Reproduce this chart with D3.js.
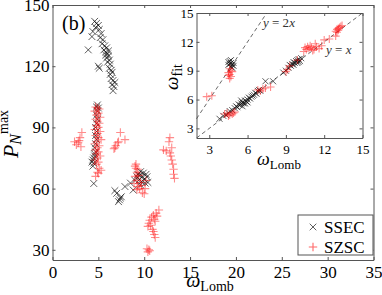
<!DOCTYPE html>
<html>
<head>
<meta charset="utf-8">
<script src="https://cdn.jsdelivr.net/npm/d3@7"></script>
<style>
    body { margin: 0; background: #fff; }
    svg { display: block; font-family: 'Liberation Serif', 'Times New Roman', Times, 'DejaVu Serif', serif; }
</style>
</head>
<body>
<div id="chart"></div>
<script>
// main panel: omega_Lomb vs P_N^max
const mainSsec = [
    [4.6, 142], [4.8, 141], [5.0, 140], [4.7, 139], [4.4, 137], [5.1, 138], [5.3, 136], [5.2, 134],
    [5.5, 133], [5.4, 131], [5.7, 130], [5.6, 128], [5.9, 129], [5.8, 127], [6.0, 126], [5.9, 124],
    [6.1, 125], [6.2, 123], [6.0, 122], [6.3, 121], [6.2, 119], [6.4, 118], [6.3, 116], [6.5, 117],
    [6.4, 114], [6.6, 113], [6.5, 111], [6.7, 110], [6.6, 108], [6.8, 112], [3.9, 128], [5.0, 120],
    [5.1, 119], [4.3, 134.5], [5.8, 125.5], [6.1, 127.5],
    [4.9, 101], [4.8, 100], [5.0, 99.5], [4.9, 98], [4.8, 96], [4.9, 94], [4.8, 92], [4.7, 90],
    [4.8, 88], [4.7, 86], [4.8, 84], [4.7, 82], [4.6, 80], [4.7, 78], [4.6, 76], [4.5, 75],
    [4.4, 74], [4.3, 73], [4.5, 72.5], [4.4, 71], [4.6, 77], [4.5, 62.5],
    [6.8, 59], [7.0, 57.7], [7.2, 53.6], [7.4, 55.4], [7.5, 56], [7.3, 54.5], [7.9, 61], [8.5, 62.7],
    [8.8, 59.3], [9.2, 65.8], [9.4, 64], [9.6, 68.3], [9.9, 67.6], [10.3, 65.8], [10.1, 62.7], [9.6, 61.8],
    [9.8, 66], [10.0, 64.5], [9.3, 67], [9.7, 63.5], [10.4, 63], [9.5, 66.5], [10.2, 67], [9.0, 64]
];
const mainSzsc = [
    [4.7, 100], [4.9, 99.5], [5.1, 99], [4.6, 98], [5.0, 97], [4.8, 96], [5.2, 95], [4.7, 94],
    [4.9, 93], [5.1, 92], [4.8, 91], [5.0, 90], [4.6, 89], [5.2, 88], [4.9, 87], [4.7, 86],
    [5.0, 85], [5.3, 84], [4.8, 83], [4.6, 82], [5.1, 81], [4.9, 80], [4.7, 79], [5.0, 78],
    [4.8, 77], [5.2, 76], [4.9, 75], [4.6, 74], [5.0, 73], [4.8, 72], [5.1, 70], [4.9, 68],
    [5.3, 69], [4.7, 66], [5.0, 67.5],
    [2.6, 81.5], [2.8, 82.5], [3.0, 85], [3.2, 87.5], [2.9, 83.5], [3.1, 80.5], [2.4, 83],
    [6.7, 79.5], [6.9, 81], [7.1, 82.5], [7.4, 87.5], [7.9, 84], [7.2, 83], [6.8, 80],
    [9.0, 71], [9.1, 70], [9.2, 68], [9.3, 69.5], [9.0, 66], [9.2, 64], [8.9, 62.5], [9.3, 61],
    [9.2, 59.5], [9.5, 60], [9.8, 58], [10.0, 57.5], [10.1, 60], [9.6, 63], [10.2, 64], [9.4, 66.5],
    [9.1, 72], [9.7, 61.5],
    [11.6, 49.5], [11.3, 48], [11.0, 47], [10.8, 46], [11.1, 45], [10.6, 44.5], [11.2, 44], [10.5, 43],
    [10.4, 41.5], [10.9, 40], [11.0, 39], [11.1, 37.5], [11.2, 36], [10.7, 42], [11.4, 46.5],
    [10.3, 30.5], [10.5, 30], [10.6, 29.5], [10.4, 29],
    [12.8, 85], [12.7, 83], [12.1, 79], [12.4, 78.5], [12.8, 77.5], [12.9, 76], [13.0, 74], [13.1, 72],
    [13.2, 69.5], [13.2, 67], [13.3, 65], [13.0, 80]
];

// inset: omega_Lomb vs omega_fit
const insetSsec = [
    [4.5, 9.9], [4.6, 9.7], [4.7, 9.8], [4.8, 9.6], [4.6, 10.0], [4.9, 9.5], [4.7, 9.4], [4.8, 9.3],
    [4.5, 9.6], [4.7, 10.1], [4.9, 9.8],
    [3.8, 4.0], [4.1, 4.3], [4.3, 4.4], [4.5, 4.6], [4.6, 4.8], [4.8, 4.9], [5.0, 5.1], [5.1, 5.3],
    [5.2, 5.2], [5.3, 5.5], [5.4, 5.4], [5.5, 5.6], [5.6, 5.7], [5.7, 5.6], [5.8, 5.9], [5.9, 5.8],
    [6.0, 6.0], [6.1, 6.2], [6.0, 5.7], [5.8, 5.6], [6.2, 6.1], [6.3, 6.3], [6.4, 6.4], [6.5, 6.5],
    [6.6, 6.7], [6.7, 6.6], [6.8, 6.9], [6.9, 7.0], [7.0, 6.9], [7.4, 7.9], [8.0, 7.9], [5.5, 5.9], [5.6, 5.3],
    [8.8, 8.8], [9.0, 9.0], [9.2, 9.3], [9.4, 9.5], [9.5, 9.7], [9.6, 9.9], [9.7, 9.8], [9.8, 10.0],
    [9.9, 10.1], [10.0, 10.2], [10.1, 10.0], [10.2, 10.3], [9.6, 9.6], [9.9, 9.8], [10.0, 9.9], [9.3, 9.6]
];
const insetSzsc = [
    [4.6, 9.2], [4.7, 9.0], [4.5, 8.8], [4.6, 8.6], [4.7, 8.4], [4.6, 8.2], [4.8, 8.9], [4.5, 8.5],
    [2.8, 6.3], [3.2, 6.4],
    [4.2, 4.5], [4.4, 4.6], [4.6, 4.4], [4.8, 4.5], [5.0, 4.7], [4.5, 4.3], [4.9, 4.6],
    [6.8, 7.0], [7.0, 6.9], [7.4, 7.2], [7.8, 7.3], [7.2, 7.1],
    [9.1, 9.1], [9.3, 9.5], [9.9, 10.1], [9.0, 8.9],
    [10.4, 11.0], [10.6, 11.2], [10.8, 11.3], [11.0, 11.4], [11.2, 11.2], [11.4, 11.5], [11.6, 11.3],
    [10.9, 11.6], [11.1, 11.1], [11.3, 11.8], [10.7, 11.5], [11.8, 11.6], [10.5, 11.4],
    [12.0, 12.2], [12.4, 12.3], [12.9, 12.6],
    [12.9, 13.1], [13.0, 13.3], [13.1, 13.4], [13.2, 13.5], [13.3, 13.6], [13.1, 13.2], [13.0, 13.0], [13.4, 13.7]
];

const mainXTicks = [0, 5, 10, 15, 20, 25, 30, 35];
const mainYTicks = [30, 60, 90, 120, 150];
const insetTicks = [3, 6, 9, 12, 15];
const legendNames = ['SSEC', 'SZSC'];

const AXIS_COLOR = '#555';
const SERIF = "'Liberation Serif', 'Times New Roman', Times, 'DejaVu Serif', serif";

const crossPath = (s) => `M${-s},${-s}L${s},${s}M${-s},${s}L${s},${-s}`;
const plusPath = (s) => `M${-s},0H${s}M0,${-s}V${s}`;

const svg = d3.select('#chart').append('svg').attr('width', 382).attr('height', 295);

// draws a boxed axes with inward ticks on all four sides
const drawFrame = (g, x, y, xTicks, yTicks, fontSize, xPad, yPad) => {
    const [x0, x1] = x.range();
    const [y0, y1] = y.range();

    g.append('rect')
        .attr('x', x0).attr('y', y1)
        .attr('width', x1 - x0).attr('height', y0 - y1)
        .attr('fill', '#fff');

    const bottom = g.append('g').attr('transform', `translate(0,${y0})`)
        .call(d3.axisBottom(x).tickValues(xTicks).tickSize(-3).tickSizeOuter(0).tickPadding(xPad));
    const left = g.append('g').attr('transform', `translate(${x0},0)`)
        .call(d3.axisLeft(y).tickValues(yTicks).tickSize(-3).tickSizeOuter(0).tickPadding(yPad));
    const top = g.append('g').attr('transform', `translate(0,${y1})`)
        .call(d3.axisTop(x).tickValues(xTicks).tickSize(-3).tickSizeOuter(0).tickFormat(''));
    const right = g.append('g').attr('transform', `translate(${x1},0)`)
        .call(d3.axisRight(y).tickValues(yTicks).tickSize(-3).tickSizeOuter(0).tickFormat(''));

    [bottom, left, top, right].forEach((a) => {
        a.attr('font-family', SERIF).attr('font-size', fontSize);
        a.select('.domain').attr('stroke', AXIS_COLOR);
        a.selectAll('.tick line').attr('stroke', AXIS_COLOR);
        a.selectAll('text').attr('fill', '#000');
    });
};

const drawMarks = (g, data, x, y, path, color, opacity, width) => {
    g.append('g')
        .selectAll('path')
        .data(data)
        .enter()
        .append('path')
        .attr('transform', (d) => `translate(${x(d[0])},${y(d[1])})`)
        .attr('d', path)
        .attr('fill', 'none')
        .attr('stroke', color)
        .attr('stroke-opacity', opacity)
        .attr('stroke-width', width);
};

// ---- main axes
const x = d3.scaleLinear().domain([0, 35]).range([52.5, 373.5]);
const y = d3.scaleLinear().domain([25, 150]).range([260, 5]);

const main = svg.append('g');
drawFrame(main, x, y, mainXTicks, mainYTicks, 17, 6, 3);

drawMarks(main, mainSsec, x, y, crossPath(3.4), '#111', 0.85, 0.8);
drawMarks(main, mainSzsc, x, y, plusPath(4.2), '#ff0000', 0.45, 1.1);

// (b) label
main.append('text')
    .attr('x', 62).attr('y', 30)
    .style('font-size', '20px')
    .text('(b)');

// x label
const xl = main.append('text')
    .attr('x', 210).attr('y', 287)
    .attr('text-anchor', 'middle');
xl.append('tspan').style('font-style', 'italic').style('font-size', '20px').text('ω');
xl.append('tspan').attr('dy', 4).style('font-size', '14px').text('Lomb');

// y label
const yl = main.append('text')
    .attr('transform', 'translate(18,134) rotate(-90)')
    .attr('text-anchor', 'middle');
yl.append('tspan').style('font-style', 'italic').style('font-size', '22px').text('P');
yl.append('tspan').attr('dy', 3).style('font-style', 'italic').style('font-size', '16px').text('N');
yl.append('tspan').attr('dy', -13).style('font-size', '14px').text('max');

// legend
const legend = main.append('g');
legend.append('rect')
    .attr('x', 298).attr('y', 215)
    .attr('width', 75).attr('height', 40)
    .attr('fill', '#fff')
    .attr('stroke', AXIS_COLOR);
legendNames.forEach((name, i) => {
    const cy = 227 + i * 20;
    legend.append('path')
        .attr('transform', `translate(313,${cy})`)
        .attr('d', i === 0 ? crossPath(3.3) : plusPath(4.2))
        .attr('fill', 'none')
        .attr('stroke', i === 0 ? '#111' : '#ff0000')
        .attr('stroke-opacity', i === 0 ? 0.85 : 0.6)
        .attr('stroke-width', i === 0 ? 0.8 : 1.1);
    legend.append('text')
        .attr('x', 324).attr('y', cy + 6)
        .style('font-size', '17px')
        .text(name);
});

// ---- inset axes
const xi = d3.scaleLinear().domain([2, 15]).range([196.5, 362.5]);
const yi = d3.scaleLinear().domain([2, 15]).range([138, 13]);

const inset = svg.append('g');
drawFrame(inset, xi, yi, insetTicks, insetTicks, 13, 7, 3);

// reference lines y = x and y = 2x
const refLine = d3.line().x((d) => xi(d[0])).y((d) => yi(d[1]));
[[[2, 2], [15, 15]], [[2, 4], [7.5, 15]]].forEach((pts) => {
    inset.append('path')
        .attr('d', refLine(pts))
        .attr('fill', 'none')
        .attr('stroke', '#444')
        .attr('stroke-width', 0.8)
        .attr('stroke-dasharray', '4,3');
});

drawMarks(inset, insetSsec, xi, yi, crossPath(3), '#111', 0.85, 0.8);
drawMarks(inset, insetSzsc, xi, yi, plusPath(4), '#ff0000', 0.45, 1.1);

const lab2x = inset.append('text').attr('x', 263).attr('y', 27).attr('fill', '#333').style('font-size', '13px');
lab2x.append('tspan').style('font-style', 'italic').text('y');
lab2x.append('tspan').text(' = 2');
lab2x.append('tspan').style('font-style', 'italic').text('x');

const lab1x = inset.append('text').attr('x', 326).attr('y', 54).attr('fill', '#333').style('font-size', '13px');
lab1x.append('tspan').style('font-style', 'italic').text('y');
lab1x.append('tspan').text(' = ');
lab1x.append('tspan').style('font-style', 'italic').text('x');

const xil = inset.append('text')
    .attr('x', 279).attr('y', 165)
    .attr('text-anchor', 'middle');
xil.append('tspan').style('font-style', 'italic').style('font-size', '18px').text('ω');
xil.append('tspan').attr('dy', 4).style('font-size', '13px').text('Lomb');

const yil = inset.append('text')
    .attr('transform', 'translate(178,77) rotate(-90)')
    .attr('text-anchor', 'middle');
yil.append('tspan').style('font-style', 'italic').style('font-size', '19px').text('ω');
yil.append('tspan').attr('dy', 4).style('font-size', '14px').text('fit');
</script>
</body>
</html>
